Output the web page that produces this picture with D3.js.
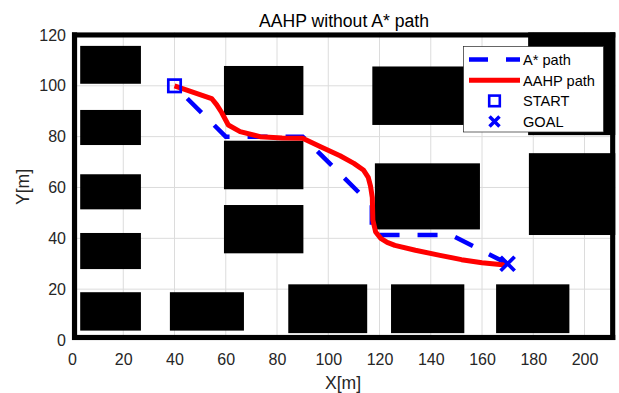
<!DOCTYPE html>
<html>
<head>
<meta charset="utf-8">
<script src="https://cdn.jsdelivr.net/npm/d3@7"></script>
<style>
  body { margin: 0; background: #fff; }
  text { font-family: "Liberation Sans", Arial, sans-serif; }
</style>
</head>
<body>
<div id="graf"></div>
<script>
// obstacles: [x0, x1, y0, y1] in metres
var walls = [
  [0, 2, 0, 121], [210, 212, 0, 121], [0, 212, 0, 2], [0, 212, 119, 121]
]
var obstacles = [
  [3.2, 26.9, 100.8, 115.7],
  [3.2, 26.9, 76.7, 90.5],
  [3.2, 26.9, 51.4, 65.2],
  [3.2, 26.9, 27.9, 42.1],
  [3.2, 26.9, 3.7, 18.8],
  [38.2, 67.1, 3.7, 18.8],
  [59.3, 90.3, 34.1, 53.1],
  [59.3, 90.3, 59.3, 78.4],
  [59.3, 90.3, 88.5, 107.8],
  [117.2, 158, 84.6, 107.6],
  [118.2, 159.2, 43.5, 69.5],
  [178, 212, 80.6, 121],
  [178.3, 212, 41.3, 73.5],
  [84.4, 115.2, 2.7, 21.9],
  [124.5, 153.1, 2.7, 21.9],
  [165.5, 194.1, 2.7, 21.9]
]

var astarX = [40, 60, 90, 117, 117, 148, 170]
var astarY = [100, 80, 80, 53, 41.3, 41.3, 30]

var aahpX = [40, 54.5, 56.5, 58.4, 61, 65.6, 73.4, 82, 90, 97, 104.6, 110, 113.7, 115.6, 116.5, 117.2, 117.4, 118.5, 120.5, 123, 126, 134, 143.6, 152, 160, 167, 169]
var aahpY = [100, 95, 92.5, 89.5, 84.6, 82, 80, 79.5, 79.4, 76, 72.5, 69.5, 66.9, 64, 60.5, 56, 47.2, 42.5, 40, 38.4, 37.2, 35.3, 33.3, 31.6, 30.4, 29.7, 29.6]

var start = [40, 100]
var goal = [170, 30]

var xTicks = [0, 20, 40, 60, 80, 100, 120, 140, 160, 180, 200]
var yTicks = [0, 20, 40, 60, 80, 100, 120]

var legendLabels = ["A* path", "AAHP path", "START", "GOAL"]

var W = 619, H = 393
var axisColor = "#262626"

var x = d3.scaleLinear().domain([0, 212]).range([72, 72 + 212 * 2.5625])
var y = d3.scaleLinear().domain([0, 121]).range([340, 340 - 121 * 2.542])

var svg = d3.select('#graf')
            .append('svg')
            .attr('width', W)
            .attr('height', H)

// grid
svg.append("g")
  .selectAll("line.gx")
  .data(xTicks)
  .enter().append("line")
  .attr("x1", d => x(d)).attr("x2", d => x(d))
  .attr("y1", y(0)).attr("y2", y(121))
  .attr("stroke", "#dcdcdc").attr("stroke-width", 1)
svg.append("g")
  .selectAll("line.gy")
  .data(yTicks)
  .enter().append("line")
  .attr("y1", d => y(d)).attr("y2", d => y(d))
  .attr("x1", x(0)).attr("x2", x(212))
  .attr("stroke", "#dcdcdc").attr("stroke-width", 1)

// obstacles + walls
svg.append("g")
  .selectAll("rect")
  .data(walls.concat(obstacles))
  .enter().append("rect")
  .attr("x", d => x(d[0]))
  .attr("y", d => y(d[3]))
  .attr("width", d => x(d[1]) - x(d[0]))
  .attr("height", d => y(d[2]) - y(d[3]))
  .attr("fill", "#000")

// axes (tick labels only, wall acts as the box)
var xAxis = svg.append("g")
  .attr("transform", "translate(0," + y(0) + ")")
  .call(d3.axisBottom(x).tickValues(xTicks).tickSize(0).tickPadding(14))
xAxis.select(".domain").remove()
xAxis.selectAll("text").attr("font-size", 16).attr("fill", axisColor)
  .attr("font-family", "Liberation Sans, Arial, sans-serif")

var yAxis = svg.append("g")
  .attr("transform", "translate(" + x(0) + ",0)")
  .call(d3.axisLeft(y).tickValues(yTicks).tickSize(0).tickPadding(6))
yAxis.select(".domain").remove()
yAxis.selectAll("text").attr("font-size", 16).attr("fill", axisColor)
  .attr("font-family", "Liberation Sans, Arial, sans-serif")

// paths
var line = d3.line().x(d => x(d[0])).y(d => y(d[1]))

svg.append("path")
  .datum(d3.zip(astarX, astarY))
  .attr("d", line)
  .attr("fill", "none")
  .attr("stroke", "#0000ff")
  .attr("stroke-width", 4.5)
  .attr("stroke-dasharray", "20,18")
  .attr("stroke-dashoffset", 20)

svg.append("path")
  .datum(d3.zip(aahpX, aahpY))
  .attr("d", line)
  .attr("fill", "none")
  .attr("stroke", "#ff0000")
  .attr("stroke-width", 5)
  .attr("stroke-linejoin", "round")

// start / goal markers
svg.append("rect")
  .attr("x", x(start[0]) - 6.2).attr("y", y(start[1]) - 6.2)
  .attr("width", 12.4).attr("height", 12.4)
  .attr("fill", "none").attr("stroke", "#0000ff").attr("stroke-width", 2.7)

function cross(g, cx, cy, r, w) {
  g.append("path")
    .attr("d", "M" + (cx - r) + "," + (cy - r) + "L" + (cx + r) + "," + (cy + r) +
               "M" + (cx - r) + "," + (cy + r) + "L" + (cx + r) + "," + (cy - r))
    .attr("stroke", "#0000ff").attr("stroke-width", w).attr("fill", "none")
}
cross(svg, x(goal[0]), y(goal[1]), 7, 3.8)

// legend
var lg = svg.append("g")
lg.append("rect")
  .attr("x", 463.5).attr("y", 46.5).attr("width", 140).attr("height", 85.5)
  .attr("fill", "#fff").attr("stroke", axisColor).attr("stroke-width", 0.7)

var rowY = [59.5, 80.2, 100.9, 121.6]
lg.append("line").attr("x1", 469).attr("x2", 520).attr("y1", rowY[0]).attr("y2", rowY[0])
  .attr("stroke", "#0000ff").attr("stroke-width", 4.5).attr("stroke-dasharray", "19,18")
lg.append("line").attr("x1", 469).attr("x2", 520).attr("y1", rowY[1]).attr("y2", rowY[1])
  .attr("stroke", "#ff0000").attr("stroke-width", 5)
lg.append("rect").attr("x", 494.5 - 5.3).attr("y", rowY[2] - 5.3)
  .attr("width", 10.6).attr("height", 10.6)
  .attr("fill", "none").attr("stroke", "#0000ff").attr("stroke-width", 2.6)
cross(lg, 494.5, rowY[3], 5, 3.5)

lg.selectAll("text.lab")
  .data(legendLabels)
  .enter().append("text")
  .attr("x", 523)
  .attr("y", (d, i) => rowY[i] + 5.3)
  .attr("font-size", 14.6)
  .attr("fill", "#000")
  .text(d => d)

// title and labels
svg.append("text")
  .attr("x", 344).attr("y", 27)
  .attr("text-anchor", "middle")
  .attr("font-size", 17.6)
  .attr("fill", "#000")
  .text("AAHP without A* path")

svg.append("text")
  .attr("x", 343).attr("y", 389)
  .attr("text-anchor", "middle")
  .attr("font-size", 17.6)
  .attr("fill", axisColor)
  .text("X[m]")

svg.append("text")
  .attr("transform", "translate(29,187) rotate(-90)")
  .attr("text-anchor", "middle")
  .attr("font-size", 17.6)
  .attr("fill", axisColor)
  .text("Y[m]")
</script>
</body>
</html>
